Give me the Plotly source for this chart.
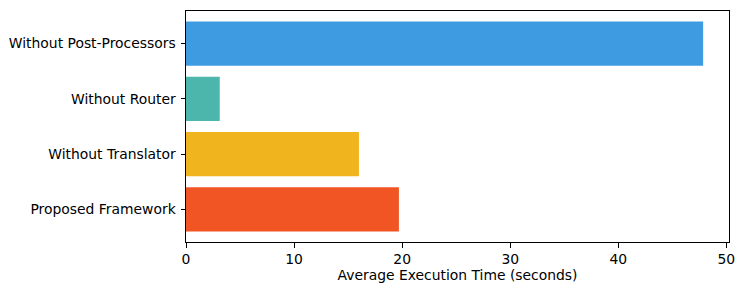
import plotly.graph_objects as go

categories = ["Proposed Framework", "Without Translator", "Without Router", "Without Post-Processors"]
times = [19.7, 16.0, 3.12, 47.85]
colors = ["#F15523", "#F0B41F", "#4DB6AC", "#3E9BE1"]
x_ticks = [0, 10, 20, 30, 40, 50]

fig = go.Figure(go.Bar(
    y=categories, x=times, orientation="h", width=0.8,
    marker=dict(color=colors, line=dict(width=0)),
))

font = dict(family="DejaVu Sans", size=13.9, color="black")
fig.update_layout(
    width=744, height=294,
    margin=dict(l=186, r=15, t=11, b=52, autoexpand=False),
    plot_bgcolor="white", paper_bgcolor="white",
    font=font, showlegend=False,
    bargap=0.2,
)
fig.update_xaxes(
    range=[0, max(times) * 1.05], automargin=False,
    tickvals=x_ticks, ticktext=[str(t) for t in x_ticks],
    showgrid=False, zeroline=False,
    showline=True, linecolor="black", linewidth=1, mirror=True,
    ticks="outside", ticklen=4.5, tickwidth=1, tickcolor="black",
    title=dict(text="Average Execution Time (seconds)", standoff=4, font=font),
    tickfont=font,
)
fig.update_yaxes(
    type="category", categoryorder="array", categoryarray=categories,
    range=[-0.59, 3.59], automargin=False,
    showgrid=False, zeroline=False,
    showline=True, linecolor="black", linewidth=1, mirror=True,
    ticks="outside", ticklen=4.5, tickwidth=1, tickcolor="black",
    tickfont=font, ticklabelstandoff=2,
)
fig.write_html("out.html", config={"displayModeBar": False},
               post_script="document.body.style.margin='0';")
